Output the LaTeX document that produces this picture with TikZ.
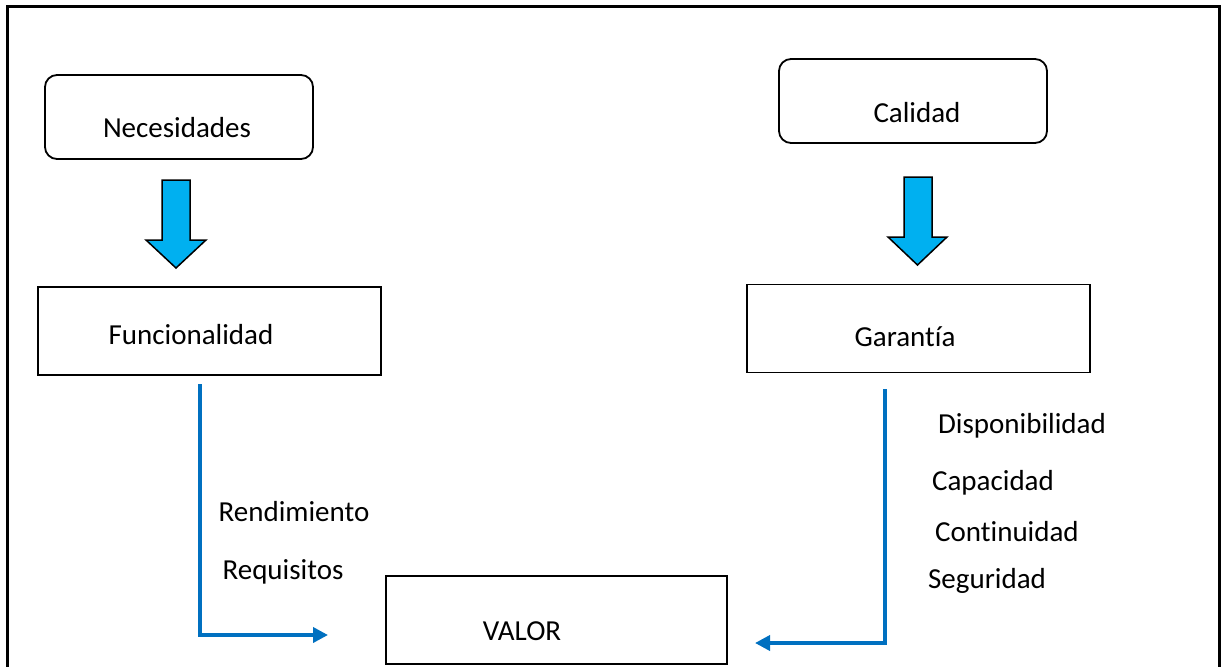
\documentclass[tikz,border=0pt]{standalone}
\usepackage{fontspec}
\setmainfont[Ligatures={NoCommon}]{Carlito}
\usetikzlibrary{arrows.meta}
\definecolor{arrowfill}{RGB}{0,176,240}
\definecolor{lineblue}{RGB}{0,112,192}
\tikzset{
  roundbox/.style={draw, line width=1.8pt, rounded corners=12pt, minimum width=268pt, minimum height=84pt},
  sqbox/.style={draw, line width=1.8pt, minimum width=343pt, minimum height=88pt},
  lbl/.style={font=\fontsize{29pt}{34pt}\selectfont, inner sep=0pt},
  fatarrow/.style={draw, line width=1.5pt, fill=arrowfill, line join=miter},
  flow/.style={draw=lineblue, line width=3.6pt, -{Triangle[length=15pt,width=15pt]}},
}
\begin{document}
\begin{tikzpicture}[x=1pt,y=-1pt]
\useasboundingbox (0,0) rectangle (1222,666);
% frame
\draw[line width=3pt] (7,670) -- (7,6.5) -- (1219.5,6.5) -- (1219.5,670);
% boxes
\node[roundbox] (nec) at (179,117) {};
\node[lbl] at (177,128) {Necesidades};
\node[roundbox] (cal) at (913,101) {};
\node[lbl] at (917,113) {Calidad};
\node[sqbox] (fun) at (209.5,331) {};
\node[lbl] at (191,335) {Funcionalidad};
\node[sqbox] (gar) at (918.5,328.5) {};
\node[lbl] at (905,337) {Garantía};
\node[sqbox, minimum width=341pt, minimum height=88pt] (val) at (556.5,620) {};
\node[lbl] at (522,631) {VALOR};
% fat arrows
\draw[fatarrow] (162,180) -- (190,180) -- (190,240) -- (206,240) -- (176,268) -- (146,240) -- (162,240) -- cycle;
\draw[fatarrow] (904,177) -- (932,177) -- (932,237) -- (947,237) -- (917.5,265) -- (888,237) -- (904,237) -- cycle;
% flow lines
\coordinate (ls) at (200,384);
\coordinate (le) at (328,635);
\draw[flow] (ls) |- (le);
\coordinate (rs) at (885,389);
\coordinate (re) at (755,643);
\draw[flow] (rs) |- (re);
% labels
\node[lbl] (rend) at (294,512) {Rendimiento};
\node[lbl] (req) at (283,572) {Requisitos};
\node[lbl] (disp) at (1022,426) {Disponibilidad};
\node[lbl] (capa) at (993,483) {Capacidad};
\node[lbl] (cont) at (1007,532) {Continuidad};
\node[lbl] (seg) at (987,581) {Seguridad};
\end{tikzpicture}
\end{document}
